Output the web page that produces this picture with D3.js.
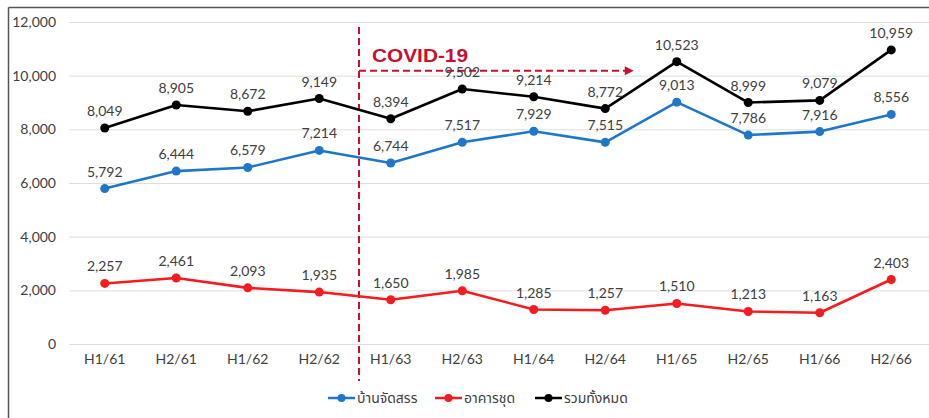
<!DOCTYPE html>
<html><head><meta charset="utf-8">
<script src="https://cdn.jsdelivr.net/npm/d3@7"></script>
<style>body{margin:0;background:#fff;} svg{display:block;}</style>
</head><body>
<script>
const categories = ["H1/61","H2/61","H1/62","H2/62","H1/63","H2/63","H1/64","H2/64","H1/65","H2/65","H1/66","H2/66"];
const housing = [5792,6444,6579,7214,6744,7517,7929,7515,9013,7786,7916,8556];
const condo = [2257,2461,2093,1935,1650,1985,1285,1257,1510,1213,1163,2403];
const total = [8049,8905,8672,9149,8394,9502,9214,8772,10523,8999,9079,10959];
const yTicks = [0,2000,4000,6000,8000,10000,12000];
const seriesNames = ["บ้านจัดสรร","อาคารชุด","รวมทั้งหมด"];
const seriesColors = ["#1f77c9","#f51c1f","#000000"];
const covidLabel = "COVID-19";

const W=929,H=418;
const svg=d3.select("body").append("svg").attr("width",W).attr("height",H);
const font="Lato,'Liberation Sans',sans-serif";
const x=d3.scaleBand().domain(categories).range([69,927]);
const cx=c=>x(c)+x.bandwidth()/2;
const y=d3.scaleLinear().domain([0,12000]).range([344,22]);

// frame
svg.append("line").attr("x1",8.5).attr("x2",W).attr("y1",7.5).attr("y2",7.5).attr("stroke","#555").attr("stroke-width",1.5);
svg.append("line").attr("x1",8.5).attr("x2",8.5).attr("y1",7.5).attr("y2",H).attr("stroke","#555").attr("stroke-width",1.5);

// grid
svg.append("g").selectAll("line").data(yTicks).join("line")
 .attr("x1",69).attr("x2",W).attr("y1",d=>y(d)+0.5).attr("y2",d=>y(d)+0.5)
 .attr("stroke","#dedede").attr("stroke-width",1);

// y axis labels
const yAxis=d3.axisLeft(y).tickValues(yTicks).tickSize(0).tickPadding(0).tickFormat(d3.format(","));
const ga=svg.append("g").attr("transform","translate(56,0)").call(yAxis);
ga.select(".domain").remove();
ga.selectAll("text").attr("font-family",font).attr("font-size",14).attr("fill","#404040");

// x axis labels
const xAxis=d3.axisBottom(x).tickSize(0).tickPadding(0);
const gx=svg.append("g").attr("transform","translate(0,354)").call(xAxis);
gx.select(".domain").remove();
gx.selectAll("text").attr("font-family",font).attr("font-size",14).attr("fill","#404040");

// covid markers
const vx=x("H1/63")+4;
const red="#c8102e";
svg.append("line").attr("x1",vx).attr("x2",vx).attr("y1",27).attr("y2",381)
 .attr("stroke",red).attr("stroke-width",2).attr("stroke-dasharray","7,4");
const ay=y(10180);
const ax=cx("H1/65")-43;
svg.append("line").attr("x1",vx).attr("x2",ax-6).attr("y1",ay).attr("y2",ay)
 .attr("stroke",red).attr("stroke-width",2).attr("stroke-dasharray","7,4");
svg.append("path").attr("d",`M${ax-9},${ay-4.5}L${ax},${ay}L${ax-9},${ay+4.5}Z`).attr("fill",red);
svg.append("text").attr("x",vx+13).attr("y",62).text(covidLabel)
 .attr("font-family","'Liberation Sans',Arial,sans-serif").attr("font-size",19).attr("font-weight","bold").attr("fill",red)
 .attr("textLength",96).attr("lengthAdjust","spacingAndGlyphs");

// series
const all=[housing,condo,total];
const line=d3.line().x((d,i)=>cx(categories[i])).y(d=>y(d));
all.forEach((vals,k)=>{
  const g=svg.append("g");
  g.append("path").datum(vals).attr("d",line).attr("fill","none").attr("stroke",seriesColors[k]).attr("stroke-width",2.6).attr("stroke-linejoin","round");
  g.selectAll("circle").data(vals).join("circle").attr("cx",(d,i)=>cx(categories[i])).attr("cy",d=>y(d)).attr("r",4.5).attr("fill",seriesColors[k]);
  g.selectAll("text").data(vals).join("text").attr("x",(d,i)=>cx(categories[i])).attr("y",d=>y(d)-12)
   .attr("text-anchor","middle").attr("font-family",font).attr("font-size",14).attr("fill","#404040")
   .text(d=>d3.format(",")(d));
});

// legend
const legX=[328,435,535];
const legY=398;
seriesNames.forEach((n,k)=>{
  const g=svg.append("g").attr("transform",`translate(${legX[k]},${legY})`);
  g.append("line").attr("x1",0).attr("x2",27).attr("stroke",seriesColors[k]).attr("stroke-width",2.5);
  g.append("circle").attr("cx",13.5).attr("r",4).attr("fill",seriesColors[k]);
  g.append("text").attr("x",29).attr("y",5).text(n).attr("font-family","'Noto Sans Thai','Noto Sans',sans-serif").attr("font-size",14).attr("fill","#404040");
});
</script>
</body></html>
